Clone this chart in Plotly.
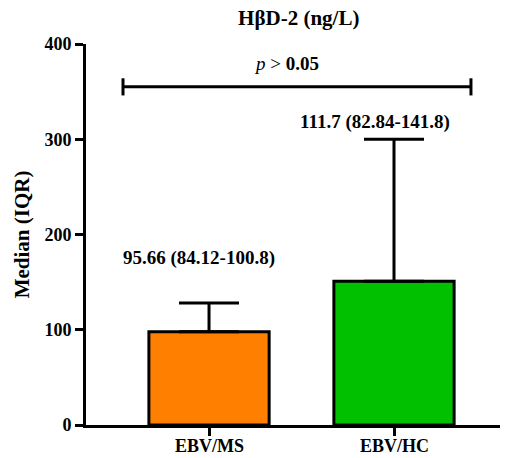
import plotly.graph_objects as go

categories = ["EBV/MS", "EBV/HC"]
bar_values = [98, 151]
upper_values = [128, 300]
labels = ["95.66 (84.12-100.8)", "111.7 (82.84-141.8)"]
label_x = [-0.054, 0.897]
label_y = [175, 318]
colors = ["#FF8000", "#00C000"]
y_ticks = [0, 100, 200, 300, 400]

font_family = "'Liberation Serif', 'Times New Roman', serif"

fig = go.Figure()
fig.add_trace(go.Bar(
    x=[0, 1],
    y=bar_values,
    width=0.65,
    marker=dict(color=colors, line=dict(color="black", width=3)),
    error_y=dict(type="data", symmetric=False,
                 array=[u - b for u, b in zip(upper_values, bar_values)],
                 arrayminus=[0, 0], color="black", thickness=3, width=30),
    showlegend=False,
))

for t, lx, ly in zip(labels, label_x, label_y):
    fig.add_annotation(x=lx, y=ly, text=f"<b>{t}</b>", showarrow=False,
                       font=dict(family=font_family, size=19, color="black"))

# category labels below the axis
for i, c in enumerate(categories):
    fig.add_annotation(x=i, y=0, xref="x", yref="paper", yanchor="top", yshift=-9,
                       text=f"<b>{c}</b>", showarrow=False,
                       font=dict(family=font_family, size=18, color="black"))

# significance bracket
bx0, bx1, by = -0.465, 1.416, 355
fig.add_shape(type="line", x0=bx0, x1=bx1, y0=by, y1=by, xref="x", yref="y",
              line=dict(color="black", width=3))
for bx in (bx0, bx1):
    fig.add_shape(type="line", x0=bx, x1=bx, y0=by - 9, y1=by + 9, xref="x", yref="y",
                  line=dict(color="black", width=3))
fig.add_annotation(x=0.42, y=380, text="<i>p</i> > <b>0.05</b>", showarrow=False,
                   font=dict(family=font_family, size=19, color="black"))

fig.update_layout(
    width=509, height=458,
    margin=dict(l=86, r=9, t=44, b=33, autoexpand=False),
    plot_bgcolor="white", paper_bgcolor="white",
    title=dict(text="<b>HβD-2 (ng/L)</b>", x=0.587, xanchor="center", y=0.962, yanchor="middle",
               font=dict(family=font_family, size=21, color="black")),
    xaxis=dict(range=[-0.665, 1.573], tickvals=[0, 1], ticktext=["", ""],
               showline=True, linecolor="black", linewidth=3, ticks="outside", automargin=False,
               ticklen=8, tickwidth=3, tickcolor="black", showgrid=False, zeroline=False),
    yaxis=dict(range=[0, 400], tickvals=y_ticks, ticktext=[f"<b>{v}</b>" for v in y_ticks],
               showline=True, linecolor="black", linewidth=3, ticks="outside", automargin=False,
               ticklen=8, tickwidth=3, tickcolor="black", showgrid=False, zeroline=False,
               tickfont=dict(family=font_family, size=18, color="black"),
               title=dict(text="<b>Median (IQR)</b>", standoff=10,
                          font=dict(family=font_family, size=21, color="black"))),
)

fig.write_html("out.html")
